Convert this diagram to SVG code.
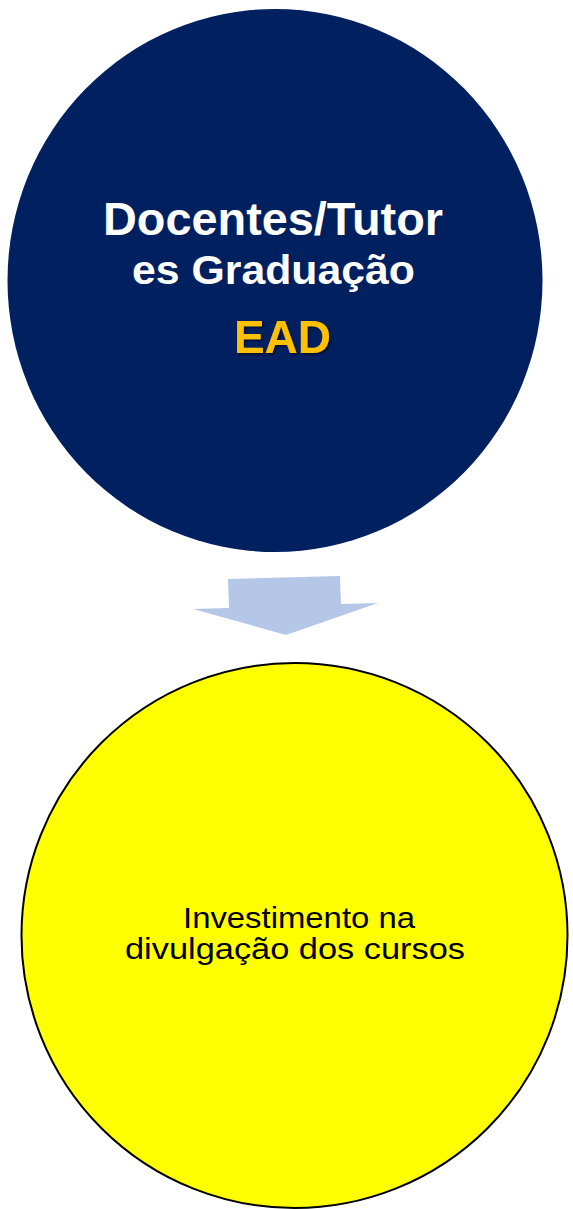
<svg xmlns="http://www.w3.org/2000/svg" width="573" height="1209" viewBox="0 0 573 1209">
<defs>
<style>
.bold{font-family:"Liberation Sans",Arial,sans-serif;font-weight:bold;text-anchor:middle}
.reg{font-family:"Liberation Sans",Arial,sans-serif;text-anchor:middle;fill:#000}
</style>
<filter id="sh" x="-20%" y="-20%" width="140%" height="140%">
<feDropShadow dx="1.5" dy="1.5" stdDeviation="1" flood-color="#000" flood-opacity="0.6"/>
</filter>
</defs>
<rect width="573" height="1209" fill="#fff"/>
<g id="node-docentes">
<ellipse cx="275" cy="280.5" rx="267.5" ry="271.5" fill="#002060"/>
<text class="bold" x="273" y="235" font-size="46" fill="#fff" textLength="340" lengthAdjust="spacingAndGlyphs">Docentes/Tutor</text>
<text class="bold" x="273.5" y="284" font-size="40" fill="#fff" textLength="283" lengthAdjust="spacingAndGlyphs">es Graduação</text>
<text class="bold" x="282.5" y="353" font-size="46" fill="#FFC000" filter="url(#sh)">EAD</text>
</g>
<g id="connectors">
<polygon points="228,579 340,576 341,604 378,603 286,635 193,609 229,608" fill="#B4C7E7"/>
</g>
<g id="node-investimento">
<ellipse cx="294.5" cy="935.5" rx="273" ry="272.5" fill="#FFFF00" stroke="#000" stroke-width="2"/>
<text class="reg" x="299" y="928" font-size="30" textLength="232" lengthAdjust="spacingAndGlyphs">Investimento na</text>
<text class="reg" x="295" y="959" font-size="30" textLength="340" lengthAdjust="spacingAndGlyphs">divulgação dos cursos</text>
</g>
</svg>
